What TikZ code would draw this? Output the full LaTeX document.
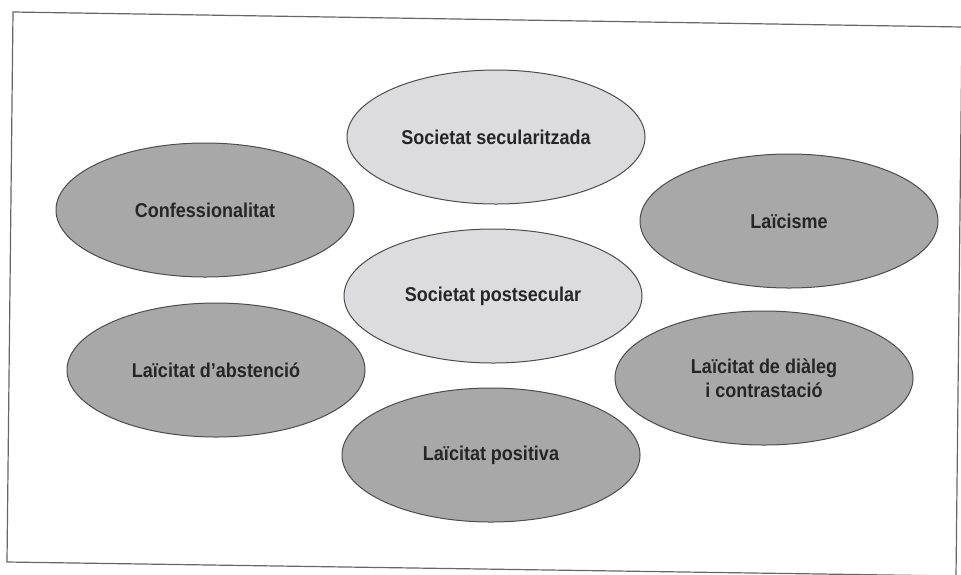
\documentclass[tikz,border=0pt]{standalone}
\usepackage{fontspec}
\setmainfont[FakeStretch=0.9]{Liberation Sans}
\usetikzlibrary{shapes.geometric}
\definecolor{ovaldark}{HTML}{A8A8A8}
\definecolor{ovallight}{HTML}{DCDCDE}
\definecolor{ovaltext}{HTML}{262626}
\tikzset{
  oval/.style={ellipse, draw=black!70, line width=0.5pt, inner sep=0pt,
    minimum width=149pt, minimum height=67pt, text=ovaltext,
    font=\fontsize{10}{12}\selectfont\bfseries, align=center},
  darkoval/.style={oval, fill=ovaldark},
  lightoval/.style={oval, fill=ovallight}
}
\begin{document}
\begin{tikzpicture}[x=0.5pt, y=-0.5pt]
  \useasboundingbox (0,0) rectangle (961,574);
  % frame (scan is slightly rotated)
  \draw [black!60, line width=0.6pt] (13,12) -- (962,27) -- (956,576) -- (7,562) -- cycle;
  % ovals
  \node [lightoval] (secular) at (496,137) {Societat secularitzada};
  \node [darkoval] (confes) at (205,210) {Confessionalitat};
  \node [darkoval] (laicisme) at (789,221) {Laïcisme};
  \node [lightoval] (postsec) at (493,296) {Societat postsecular};
  \node [darkoval] (absten) at (216,370) {Laïcitat d’abstenció};
  \node [darkoval] (dialeg) at (764,378) {Laïcitat de diàleg\\i contrastació};
  \node [darkoval] (positiva) at (491,455) {Laïcitat positiva};
\end{tikzpicture}
\end{document}
